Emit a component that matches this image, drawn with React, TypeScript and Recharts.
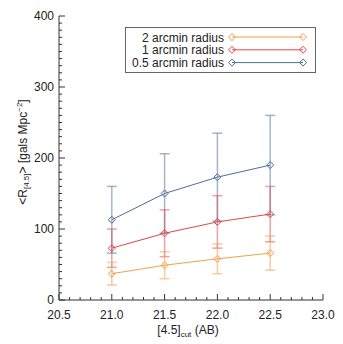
import { ComposedChart, Line, XAxis, YAxis, ErrorBar, Legend } from 'recharts';

const magCut = [21.0, 21.5, 22.0, 22.5];
const r2arcmin = [37, 49, 58, 66];
const r2arcminErr = [16, 19, 21, 24];
const r1arcmin = [73, 94, 110, 121];
const r1arcminErr = [27, 33, 37, 39];
const r05arcmin = [113, 150, 173, 190];
const r05arcminErr = [47, 56, 62, 70];

const xTicks = [20.5, 21.0, 21.5, 22.0, 22.5, 23.0];
const yTicks = [0, 100, 200, 300, 400];
// minor ticks every 0.1 mag and every 10 on y
const xMinor = Array.from({ length: 26 }, (_, i) => Math.round((20.5 + i * 0.1) * 10) / 10);
const yMinor = Array.from({ length: 41 }, (_, i) => i * 10);

const data = magCut.map((m, i) => ({
  mag: m,
  r2: r2arcmin[i],
  r2err: r2arcminErr[i],
  r1: r1arcmin[i],
  r1err: r1arcminErr[i],
  r05: r05arcmin[i],
  r05err: r05arcminErr[i]
}));

const series = [
  { key: 'r2', name: '2 arcmin radius', color: '#f3a24a', err: 'rgba(243,162,74,0.55)' },
  { key: 'r1', name: '1 arcmin radius', color: '#e0464f', err: 'rgba(224,70,79,0.5)' },
  { key: 'r05', name: '0.5 arcmin radius', color: '#4c6e97', err: 'rgba(76,110,151,0.5)' }
];

const font = '"Liberation Sans", Arial, sans-serif';
const axisColor = '#333';

const isMajor = (v: number, list: number[]) => list.some(t => Math.abs(t - v) < 1e-6);

const BottomTick = (props: any) => {
  const { x, y, payload } = props;
  const major = isMajor(payload.value, xTicks);
  return <g>
      <line x1={x} y1={y} x2={x} y2={y - (major ? 6 : 3)} stroke={axisColor} />
      {major && <text x={x} y={y + 19} textAnchor="middle" fontSize={12} fontFamily={font} fill="#222">
          {payload.value.toFixed(1)}
        </text>}
    </g>;
};

const TopTick = (props: any) => {
  const { x, y, payload } = props;
  const major = isMajor(payload.value, xTicks);
  return <line x1={x} y1={y} x2={x} y2={y + (major ? 6 : 3)} stroke={axisColor} />;
};

const LeftTick = (props: any) => {
  const { x, y, payload } = props;
  const major = isMajor(payload.value, yTicks);
  return <g>
      <line x1={x} y1={y} x2={x + (major ? 6 : 3)} y2={y} stroke={axisColor} />
      {major && <text x={x - 5} y={y + 4} textAnchor="end" fontSize={12} fontFamily={font} fill="#222">
          {payload.value}
        </text>}
    </g>;
};

const RightTick = (props: any) => {
  const { x, y, payload } = props;
  const major = isMajor(payload.value, yTicks);
  return <line x1={x} y1={y} x2={x - (major ? 6 : 3)} y2={y} stroke={axisColor} />;
};

const diamond = (color: string) => (props: any) => {
  const { cx, cy, index } = props;
  const s = 3.5;
  return <path key={index} d={`M${cx},${cy - s}L${cx + s},${cy}L${cx},${cy + s}L${cx - s},${cy}Z`} fill="none" stroke={color} strokeWidth={1} />;
};

const XTitle = (props: any) => {
  const { viewBox } = props;
  return <text x={viewBox.x + viewBox.width / 2 - 3} y={viewBox.y + 34} textAnchor="middle" fontSize={12} fontFamily={font} fill="#222">
      [4.5]<tspan fontSize={8} dy={3}>cut</tspan><tspan dy={-3}> (AB)</tspan>
    </text>;
};

const YTitle = (props: any) => {
  const { viewBox } = props;
  const cx = viewBox.x + 24;
  const cy = viewBox.y + viewBox.height / 2 - 6;
  return <text x={cx} y={cy} transform={`rotate(-90 ${cx} ${cy})`} textAnchor="middle" dominantBaseline="middle" fontSize={12} fontFamily={font} fill="#222">
      {'<R'}<tspan fontSize={8} dy={3}>[4.5]</tspan><tspan dy={-3}>{'>  [gals Mpc'}</tspan><tspan fontSize={8} dy={-4}>−2</tspan><tspan dy={4}>]</tspan>
    </text>;
};

const LegendBox = () => {
  const rows = [...series];
  return <svg width={191} height={46} style={{ display: 'block' }}>
      <rect x={0.5} y={0.5} width={190} height={45} fill="#fff" stroke="#666" />
      {rows.map((s, i) => {
      const y = 10 + i * 12.8;
      return <g key={s.key}>
            <text x={99} y={y + 4.5} textAnchor="end" fontSize={12} fontFamily={font} fill="#222">{s.name}</text>
            <line x1={107} y1={y} x2={178} y2={y} stroke={s.color} />
            {diamond(s.color)({ cx: 107, cy: y, index: 'a' })}
            {diamond(s.color)({ cx: 178, cy: y, index: 'b' })}
          </g>;
    })}
    </svg>;
};

const drawOrder = [series[2], series[1], series[0]];

const App = () => {
  return <div style={{ position: 'absolute', left: 0, top: 0, background: '#fff' }}>
      <ComposedChart width={343} height={344} data={data} margin={{ top: 16, right: 20, bottom: 0, left: 0 }}>
        <XAxis xAxisId="top" orientation="top" dataKey="mag" type="number" domain={[20.5, 23]} ticks={xMinor} interval={0} height={0} tickLine={false} tickSize={0} tickMargin={0} tick={TopTick} axisLine={{ stroke: axisColor }} />
        <XAxis xAxisId="main" dataKey="mag" type="number" domain={[20.5, 23]} ticks={xMinor} interval={0} height={44} tickLine={false} tickSize={0} tickMargin={0} tick={BottomTick} axisLine={{ stroke: axisColor }} label={{ content: XTitle }} />
        <YAxis yAxisId="main" type="number" domain={[0, 400]} ticks={yMinor} interval={0} width={59} tickLine={false} tickSize={0} tickMargin={0} tick={LeftTick} axisLine={{ stroke: axisColor }} label={{ content: YTitle }} />
        <YAxis yAxisId="right" orientation="right" type="number" domain={[0, 400]} ticks={yMinor} interval={0} width={0} tickLine={false} tickSize={0} tickMargin={0} tick={RightTick} axisLine={{ stroke: axisColor }} />
        {drawOrder.map(s => <Line key={s.key} xAxisId="main" yAxisId="main" dataKey={s.key} stroke={s.color} strokeWidth={1} dot={diamond(s.color)} activeDot={false} isAnimationActive={false}>
            <ErrorBar dataKey={s.key + 'err'} direction="y" width={5} stroke={s.err} strokeWidth={1.5} />
          </Line>)}
        <Legend verticalAlign="middle" align="center" layout="horizontal" content={LegendBox} wrapperStyle={{ left: 125, top: 27, width: 191, height: 46 }} />
      </ComposedChart>
    </div>;
};

export default App;
